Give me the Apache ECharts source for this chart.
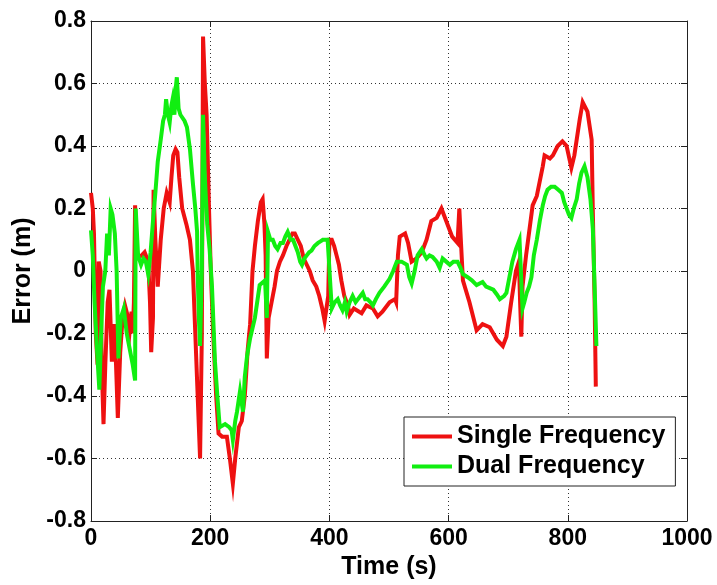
<!DOCTYPE html>
<html>
<head>
<meta charset="utf-8">
<script src="https://cdn.jsdelivr.net/npm/echarts@6/dist/echarts.min.js"></script>
<style>
html,body{margin:0;padding:0;background:#fff;}
#chart{width:717px;height:585px;}
</style>
</head>
<body>
<div id="chart"></div>
<script>
// Time (s) and error (m) for the single-frequency solution
var singleT = [0,3,5,8,11,13,16,18,21,24,28,31,35,39,42,45,49,53,57,61,65,68,70,72,74,76,85,90,96,99,101,104,105,108,112,117,122,127,132,135,138,142,145,148,153,160,166,171,175,178,181,183,186,188,191,194,198,201,205,210,214,220,228,233,238,242,248,253,258,263,267,271,275,280,285,288,291,293,295,298,303,308,312,317,322,328,333,338,342,347,352,357,362,367,372,378,383,388,392,395,398,400,404,408,412,416,420,425,431,434,441,454,462,473,481,489,501,510,512,515,518,527,532,538,546,555,563,571,580,588,596,606,615,618,620,624,635,647,657,669,681,691,697,705,713,718,720,722,724,730,741,748,758,761,770,775,783,791,798,806,811,820,825,833,840,842,845,847];
var singleV = [0.25,0.2,0.12,-0.2,-0.3,0.03,0.0,-0.3,-0.49,-0.3,-0.1,-0.06,-0.29,-0.17,-0.3,-0.47,-0.26,-0.15,-0.11,-0.14,-0.19,-0.13,-0.2,-0.1,0.21,0.04,0.05,0.06,0.03,-0.1,-0.26,-0.15,0.26,0.1,-0.05,0.1,0.2,0.25,0.22,0.3,0.37,0.39,0.38,0.3,0.2,0.15,0.1,0.0,-0.2,-0.35,-0.5,-0.6,-0.2,0.75,0.6,0.5,0.2,0.0,-0.2,-0.4,-0.52,-0.53,-0.53,-0.6,-0.68,-0.6,-0.5,-0.48,-0.4,-0.25,-0.17,0.0,0.08,0.16,0.22,0.23,0.15,0.05,-0.28,-0.15,-0.1,-0.05,0.0,0.03,0.05,0.08,0.1,0.12,0.12,0.1,0.08,0.04,0.02,0.0,-0.03,-0.05,-0.08,-0.12,-0.16,-0.12,-0.08,0.1,0.1,0.08,0.05,0.02,-0.03,-0.08,-0.11,-0.14,-0.12,-0.135,-0.11,-0.12,-0.145,-0.13,-0.1,-0.09,-0.1,0.05,0.11,0.12,0.09,0.03,0.04,0.06,0.1,0.16,0.17,0.2,0.16,0.11,0.09,0.2,0.12,-0.03,-0.1,-0.19,-0.17,-0.18,-0.22,-0.24,-0.21,-0.1,0.0,0.03,-0.1,-0.21,-0.05,0.05,0.21,0.24,0.335,0.37,0.36,0.37,0.4,0.415,0.4,0.33,0.37,0.485,0.54,0.51,0.42,0.19,-0.1,-0.37];

// Time (s) and error (m) for the dual-frequency solution
var dualT = [0,3,6,10,14,17,20,24,27,30,33,36,40,43,46,50,55,60,65,70,74,75,79,84,88,92,96,100,104,108,112,117,121,124,126,129,132,135,137,140,142,144,147,150,153,157,161,166,171,175,178,179,181,183,186,188,191,195,199,203,208,212,216,225,232,236,238,242,245,250,255,258,262,267,275,283,292,295,297,301,305,309,313,318,322,326,330,335,339,343,347,351,354,358,362,366,370,375,381,385,389,393,397,400,401,404,409,414,418,422,426,429,434,439,444,448,452,456,460,464,469,473,478,484,492,501,507,513,521,530,534,538,543,548,555,560,563,568,573,580,585,590,596,602,608,615,620,624,632,639,647,652,657,663,669,675,681,686,689,693,697,702,707,713,719,722,724,727,731,735,739,743,748,753,758,762,766,772,778,784,790,794,798,802,806,810,815,819,823,828,833,838,842,845,848];
var dualV = [0.13,0.05,-0.1,-0.25,-0.38,-0.2,-0.05,0.0,0.12,0.05,0.2,0.18,0.12,0.0,-0.28,-0.15,-0.12,-0.2,-0.25,-0.3,-0.35,0.2,0.05,0.02,0.04,0.03,-0.01,0.06,0.16,0.25,0.35,0.42,0.48,0.5,0.55,0.5,0.475,0.53,0.55,0.5,0.58,0.62,0.52,0.5,0.495,0.48,0.46,0.39,0.28,0.2,0.125,-0.01,-0.15,-0.24,0.0,0.5,0.3,0.15,0.07,-0.05,-0.29,-0.4,-0.5,-0.49,-0.5,-0.51,-0.54,-0.48,-0.45,-0.385,-0.45,-0.34,-0.27,-0.215,-0.15,-0.045,-0.03,-0.15,0.125,0.1,0.1,0.08,0.07,0.09,0.09,0.11,0.125,0.1,0.1,0.08,0.06,0.03,0.02,0.04,0.05,0.06,0.065,0.08,0.09,0.095,0.1,0.1,0.1,0.1,0.1,-0.12,-0.1,-0.09,-0.11,-0.125,-0.1,-0.13,-0.1,-0.08,-0.1,-0.09,-0.08,-0.07,-0.09,-0.09,-0.1,-0.11,-0.09,-0.07,-0.05,-0.025,0.0,0.03,0.03,0.02,-0.02,-0.04,0.0,0.05,0.07,0.05,0.04,0.05,0.045,0.03,0.01,0.04,0.03,0.02,0.03,0.03,0.01,-0.01,-0.02,-0.03,-0.045,-0.04,-0.035,-0.05,-0.055,-0.06,-0.075,-0.09,-0.095,-0.08,-0.07,-0.02,0.03,0.07,0.1,0.1,-0.12,-0.1,-0.07,-0.05,-0.02,0.05,0.1,0.16,0.21,0.24,0.26,0.27,0.27,0.26,0.25,0.22,0.2,0.18,0.17,0.2,0.23,0.28,0.315,0.335,0.3,0.23,0.135,-0.05,-0.24];

var seriesNames = ['Single Frequency', 'Dual Frequency'];
var xTitle = 'Time (s)';
var yTitle = 'Error (m)';

function pairs(t, v) { return t.map(function (x, i) { return [x, v[i]]; }); }

var FONT = '"Liberation Sans", Arial, sans-serif';
var dotted = { type: [1, 3], color: '#333', width: 1 };

var chart = echarts.init(document.getElementById('chart'), null, { renderer: 'canvas' });
chart.setOption({
  animation: false,
  backgroundColor: '#fff',
  grid: { left: 91, top: 21, right: 30, bottom: 61, show: false },
  legend: {
    orient: 'vertical',
    left: 404, top: 417,
    data: seriesNames,
    icon: 'rect',
    itemWidth: 40, itemHeight: 4,
    itemGap: 5,
    padding: [7, 10, 7, 8],
    backgroundColor: '#fff',
    borderColor: '#222', borderWidth: 1, borderRadius: 0,
    textStyle: { fontFamily: FONT, fontWeight: 'bold', fontSize: 25, color: '#000', padding: [0, 0, 0, 0] }
  },
  xAxis: [{
    type: 'value', min: 0, max: 1000, interval: 200,
    name: xTitle, nameLocation: 'middle', nameGap: 34,
    nameTextStyle: { fontFamily: FONT, fontWeight: 'bold', fontSize: 25, color: '#000' },
    axisLine: { show: true, onZero: false, lineStyle: { color: '#222', width: 1 } },
    axisTick: { show: true, inside: true, length: 6, lineStyle: { color: '#222' } },
    axisLabel: { fontFamily: FONT, fontWeight: 'bold', fontSize: 23, color: '#000', margin: 6,
      formatter: function (v) { return String(Math.round(v)); } },
    splitLine: { show: true, lineStyle: dotted }
  }, {
    type: 'value', min: 0, max: 1000, interval: 200, position: 'top',
    axisLine: { show: true, onZero: false, lineStyle: { color: '#222', width: 1 } },
    axisTick: { show: true, inside: true, length: 6, lineStyle: { color: '#222' } },
    axisLabel: { show: false }, splitLine: { show: false }
  }],
  yAxis: [{
    type: 'value', min: -0.8, max: 0.8, interval: 0.2,
    name: yTitle, nameLocation: 'middle', nameGap: 54,
    nameTextStyle: { fontFamily: FONT, fontWeight: 'bold', fontSize: 25, color: '#000' },
    axisLine: { show: true, onZero: false, lineStyle: { color: '#222', width: 1 } },
    axisTick: { show: true, inside: true, length: 6, lineStyle: { color: '#222' } },
    axisLabel: {
      fontFamily: FONT, fontWeight: 'bold', fontSize: 23, color: '#000', margin: 5,
      formatter: function (v) { var s = (+v).toFixed(1); return (s === '0.0' || s === '-0.0') ? '0' : s; }
    },
    splitLine: { show: true, lineStyle: dotted }
  }, {
    type: 'value', min: -0.8, max: 0.8, interval: 0.2, position: 'right',
    axisLine: { show: true, onZero: false, lineStyle: { color: '#222', width: 1 } },
    axisTick: { show: true, inside: true, length: 6, lineStyle: { color: '#222' } },
    axisLabel: { show: false }, splitLine: { show: false }
  }],
  series: [{
    name: seriesNames[0], type: 'line', data: pairs(singleT, singleV),
    showSymbol: false, symbol: 'none',
    lineStyle: { color: '#ee1111', width: 4, join: 'miter' }, itemStyle: { color: '#ee1111' },
    z: 2
  }, {
    name: seriesNames[1], type: 'line', data: pairs(dualT, dualV),
    showSymbol: false, symbol: 'none',
    lineStyle: { color: '#11ee11', width: 4, join: 'miter' }, itemStyle: { color: '#11ee11' },
    z: 3
  }]
});
</script>
</body>
</html>
